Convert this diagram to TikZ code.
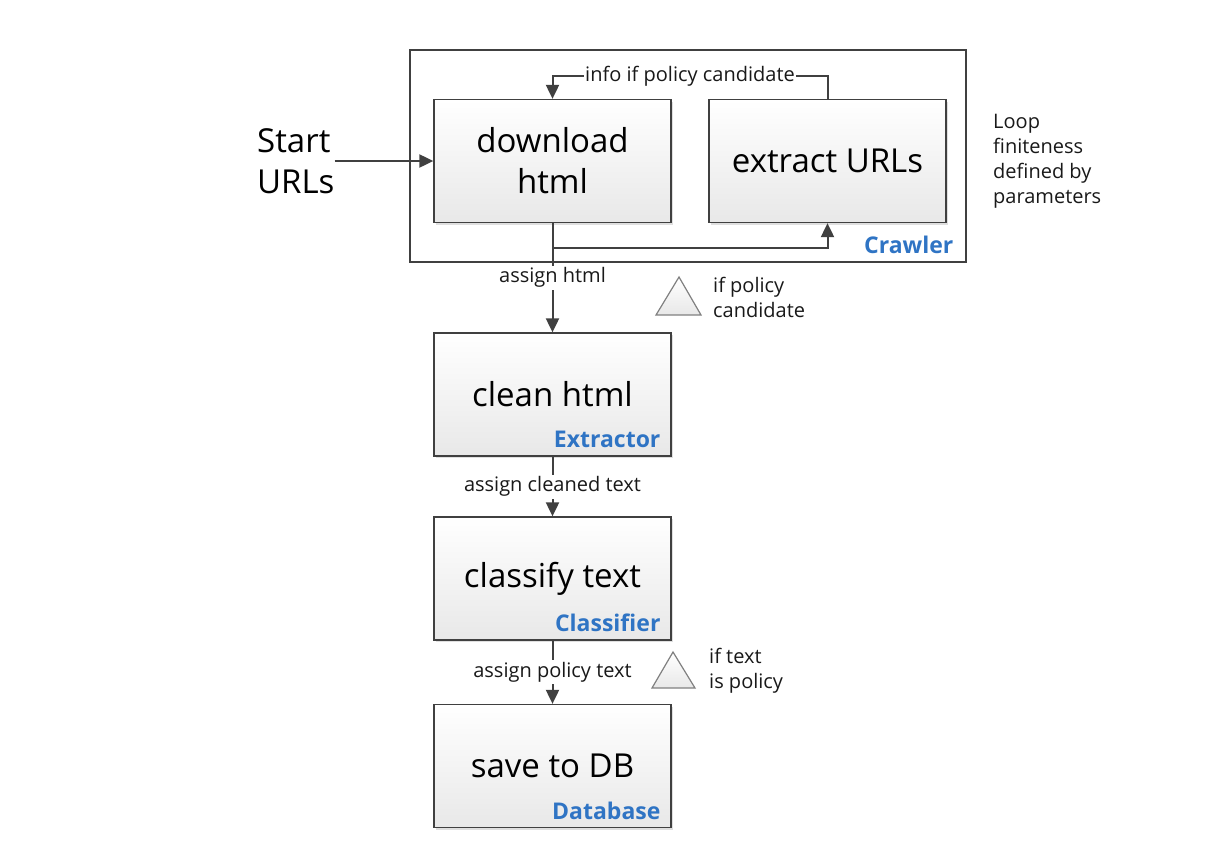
\documentclass[tikz,border=0pt]{standalone}
\usepackage{fontspec}
\setmainfont{Open Sans}
\usetikzlibrary{arrows.meta,shadows}
\definecolor{edge}{HTML}{404040}
\definecolor{blu}{HTML}{2F74C4}
\definecolor{boxbot}{HTML}{E8E8E8}
\tikzset{
  proc/.style={draw=edge, line width=1.3pt, top color=white, bottom color=boxbot,
    minimum width=237pt, minimum height=123pt, inner sep=0pt, align=center,
    font=\fontsize{33}{41}\selectfont,
    drop shadow={shadow xshift=2pt, shadow yshift=-2pt, opacity=0.25}},
  comp/.style={text=blu, font=\fontsize{23}{27}\selectfont\bfseries, inner sep=0pt, anchor=base east},
  lbl/.style={fill=white, font=\fontsize{20}{24}\selectfont, inner sep=2pt, text=black!90},
  note/.style={font=\fontsize{20}{25}\selectfont, align=left, inner sep=0pt, anchor=west, text=black!90},
  arr/.style={draw=edge, line width=2pt, -{Triangle[length=14pt, width=13pt]}},
  tri/.style={draw=gray, line width=1.2pt, top color=white, bottom color=boxbot}
}
\begin{document}
\begin{tikzpicture}[x=1pt, y=-1pt]
\useasboundingbox (0,0) rectangle (1228,852);
% crawler frame
\node[draw=edge, line width=1.2pt, minimum width=556pt, minimum height=212pt, inner sep=0pt] (crawler) at (688,156) {};
\node[comp] (crawlerlbl) at ([xshift=-13pt, yshift=9pt]crawler.south east) {Crawler};
% boxes
\node[proc] (dl) at (552.5,161) {download\\html};
\node[proc] (ex) at (827.5,161) {extract URLs};
\node[proc] (clean) at (552.5,394.5) {clean html};
\node[proc] (cls) at (552.5,578.5) {classify text};
\node[proc] (db) at (552.5,766) {save to DB};
\node[comp] (extlbl) at ([xshift=-11pt, yshift=9pt]clean.south east) {Extractor};
\node[comp] (clslbl) at ([xshift=-11pt, yshift=9pt]cls.south east) {Classifier};
\node[comp] (dblbl) at ([xshift=-11pt, yshift=9pt]db.south east) {Database};
% start
\node[font=\fontsize{33}{41}\selectfont, align=left, inner sep=0pt, anchor=west] (start) at (257,161) {Start\\URLs};
\draw[arr] (start.east) -- (dl.west);
% loops
\draw[arr] (ex.north) -- ++(0,-23) -| node[lbl, pos=0.25, inner xsep=1pt] {info if policy candidate} (dl.north);
\draw[arr] (dl.south) -- ++(0,25) -| (ex.south);
\draw[arr] (dl.south) -- node[lbl] {assign html} (clean.north);
\draw[arr] (clean.south) -- node[lbl] {assign cleaned text} (cls.north);
\draw[arr] (cls.south) -- node[lbl] {assign policy text} (db.north);
% triangles
\draw[tri] (656,315) -- (679,277) -- (701,315) -- cycle;
\draw[tri] (652,688) -- (673,652) -- (695,688) -- cycle;
\node[note] (n1) at (713,297) {if policy\\candidate};
\node[note] (n2) at (709,671) {if text\\is policy};
\node[note] (n3) at (993,161) {Loop\\finiteness\\defined by\\parameters};
\end{tikzpicture}
\end{document}
